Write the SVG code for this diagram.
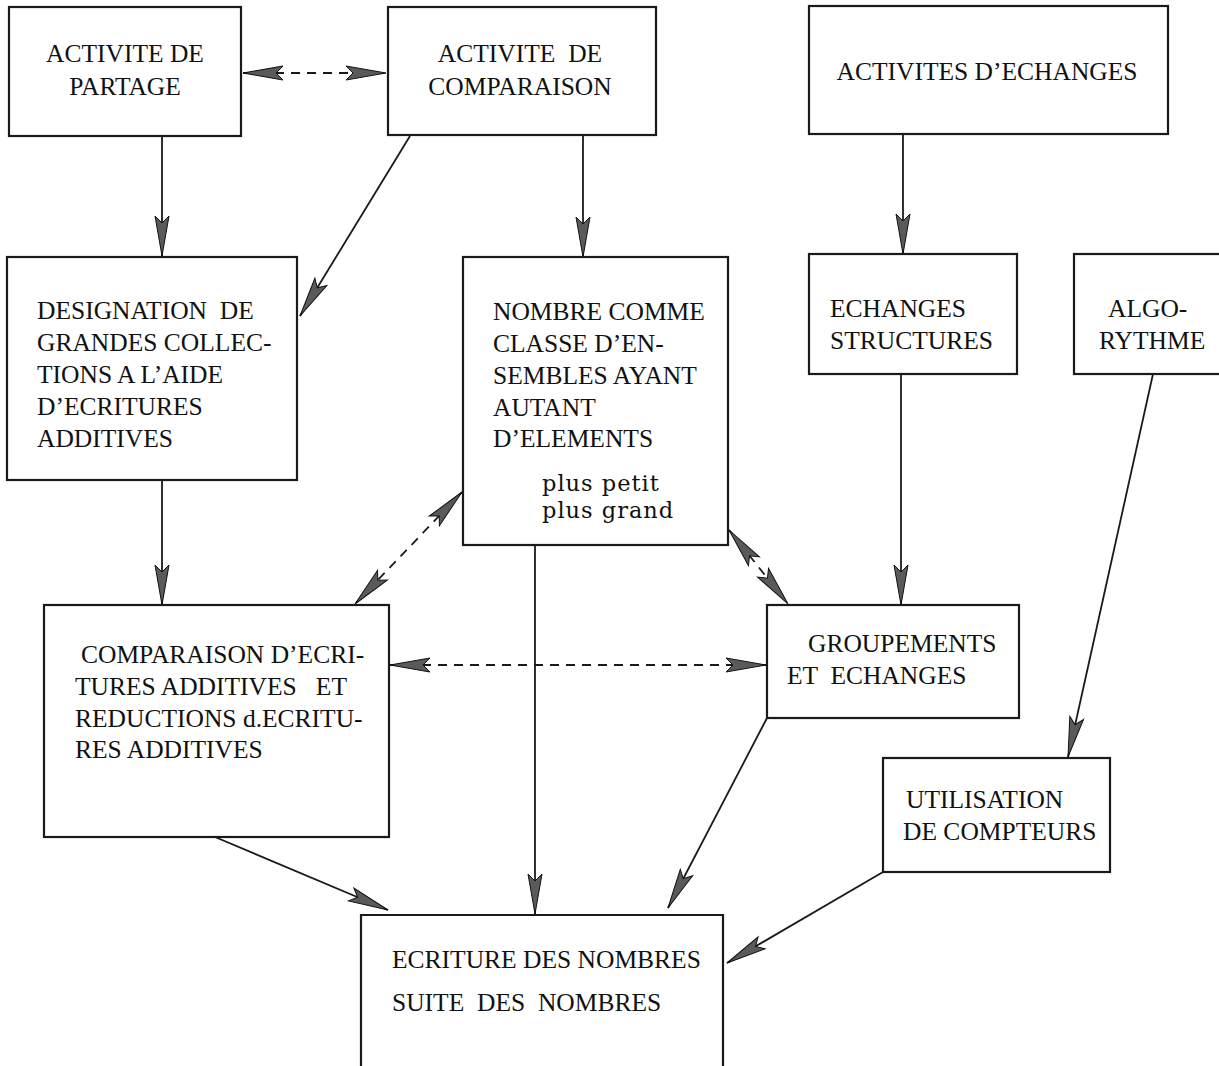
<svg xmlns="http://www.w3.org/2000/svg" width="1219" height="1066" viewBox="0 0 1219 1066">
<defs>
<style>
.box{fill:#fff;stroke:#1a1a1a;stroke-width:2.2}
.t{font-family:"Liberation Serif","Times New Roman",serif;font-size:25.5px;fill:#111;white-space:pre}
.s{font-family:"DejaVu Serif","Liberation Serif",serif;font-size:22.5px;letter-spacing:1px;fill:#111}
.c{fill:none;stroke:#1a1a1a;stroke-width:1.8}
.d{stroke-dasharray:9 7}
</style>
<marker id="ah" viewBox="-42 -8 44 16" markerWidth="44" markerHeight="16" refX="0" refY="0" orient="auto-start-reverse" markerUnits="userSpaceOnUse">
<path d="M0,0 L-40,-7 L-33,0 L-40,7 Z" fill="#5a5a5a" stroke="#111" stroke-width="1" stroke-dasharray="none" stroke-linejoin="miter"/>
</marker>
</defs>
<rect width="1219" height="1066" fill="#fff"/>

<g id="connectors">
<line class="c d" x1="243" y1="73" x2="386" y2="73" marker-start="url(#ah)" marker-end="url(#ah)"/>
<line class="c" x1="162" y1="136" x2="162" y2="256" marker-end="url(#ah)"/>
<line class="c" x1="410" y1="136" x2="300" y2="316" marker-end="url(#ah)"/>
<line class="c" x1="583" y1="135" x2="583" y2="257" marker-end="url(#ah)"/>
<line class="c" x1="903" y1="134" x2="903" y2="254" marker-end="url(#ah)"/>
<line class="c" x1="162" y1="481" x2="162" y2="605" marker-end="url(#ah)"/>
<line class="c d" x1="462" y1="492" x2="355" y2="604" marker-start="url(#ah)" marker-end="url(#ah)"/>
<line class="c d" x1="729" y1="530" x2="788" y2="604" marker-start="url(#ah)" marker-end="url(#ah)"/>
<line class="c d" x1="390" y1="665" x2="766" y2="665" marker-start="url(#ah)" marker-end="url(#ah)"/>
<line class="c" x1="535" y1="545" x2="535" y2="914" marker-end="url(#ah)"/>
<line class="c" x1="901" y1="374" x2="901" y2="605" marker-end="url(#ah)"/>
<line class="c" x1="1153" y1="374" x2="1068" y2="757" marker-end="url(#ah)"/>
<line class="c" x1="215" y1="837" x2="388" y2="910" marker-end="url(#ah)"/>
<line class="c" x1="767" y1="718" x2="668" y2="908" marker-end="url(#ah)"/>
<line class="c" x1="883" y1="872" x2="727" y2="963" marker-end="url(#ah)"/>
</g>

<g id="activite-partage">
<rect class="box" x="9" y="7" width="232" height="129"/>
<text class="t" x="125" y="62" text-anchor="middle">ACTIVITE DE</text>
<text class="t" x="125" y="95" text-anchor="middle">PARTAGE</text>
</g>

<g id="activite-comparaison">
<rect class="box" x="388" y="7" width="268" height="128"/>
<text class="t" x="520" y="62" text-anchor="middle">ACTIVITE  DE</text>
<text class="t" x="520" y="95" text-anchor="middle">COMPARAISON</text>
</g>

<g id="activites-echanges">
<rect class="box" x="809" y="6" width="359" height="128"/>
<text class="t" x="987" y="80" text-anchor="middle">ACTIVITES D’ECHANGES</text>
</g>

<g id="designation">
<rect class="box" x="7" y="257" width="290" height="223"/>
<text class="t" x="37" y="319">DESIGNATION  DE</text>
<text class="t" x="37" y="351">GRANDES COLLEC-</text>
<text class="t" x="37" y="383">TIONS A L’AIDE</text>
<text class="t" x="37" y="415">D’ECRITURES</text>
<text class="t" x="37" y="447">ADDITIVES</text>
</g>

<g id="nombre">
<rect class="box" x="463" y="257" width="265" height="288"/>
<text class="t" x="493" y="320">NOMBRE COMME</text>
<text class="t" x="493" y="352">CLASSE D’EN-</text>
<text class="t" x="493" y="384">SEMBLES AYANT</text>
<text class="t" x="493" y="416">AUTANT</text>
<text class="t" x="493" y="447">D’ELEMENTS</text>
<text class="s" x="542" y="491">plus petit</text>
<text class="s" x="542" y="518">plus grand</text>
</g>

<g id="echanges-structures">
<rect class="box" x="809" y="254" width="208" height="120"/>
<text class="t" x="830" y="317">ECHANGES</text>
<text class="t" x="830" y="349">STRUCTURES</text>
</g>

<g id="algorythme">
<rect class="box" x="1074" y="254" width="150" height="120"/>
<text class="t" x="1108" y="317">ALGO-</text>
<text class="t" x="1099" y="349">RYTHME</text>
</g>

<g id="comparaison-ecritures">
<rect class="box" x="44" y="605" width="345" height="232"/>
<text class="t" x="81" y="663">COMPARAISON D’ECRI-</text>
<text class="t" x="75" y="695">TURES ADDITIVES   ET</text>
<text class="t" x="75" y="727">REDUCTIONS d.ECRITU-</text>
<text class="t" x="75" y="758">RES ADDITIVES</text>
</g>

<g id="groupements">
<rect class="box" x="767" y="605" width="252" height="113"/>
<text class="t" x="808" y="652">GROUPEMENTS</text>
<text class="t" x="787" y="684">ET  ECHANGES</text>
</g>

<g id="utilisation">
<rect class="box" x="883" y="758" width="227" height="114"/>
<text class="t" x="906" y="808">UTILISATION</text>
<text class="t" x="903" y="840">DE COMPTEURS</text>
</g>

<g id="ecriture">
<path class="box" d="M361,1070 V915 H723 V1070"/>
<text class="t" x="392" y="968">ECRITURE DES NOMBRES</text>
<text class="t" x="392" y="1011">SUITE  DES  NOMBRES</text>
</g>
</svg>
